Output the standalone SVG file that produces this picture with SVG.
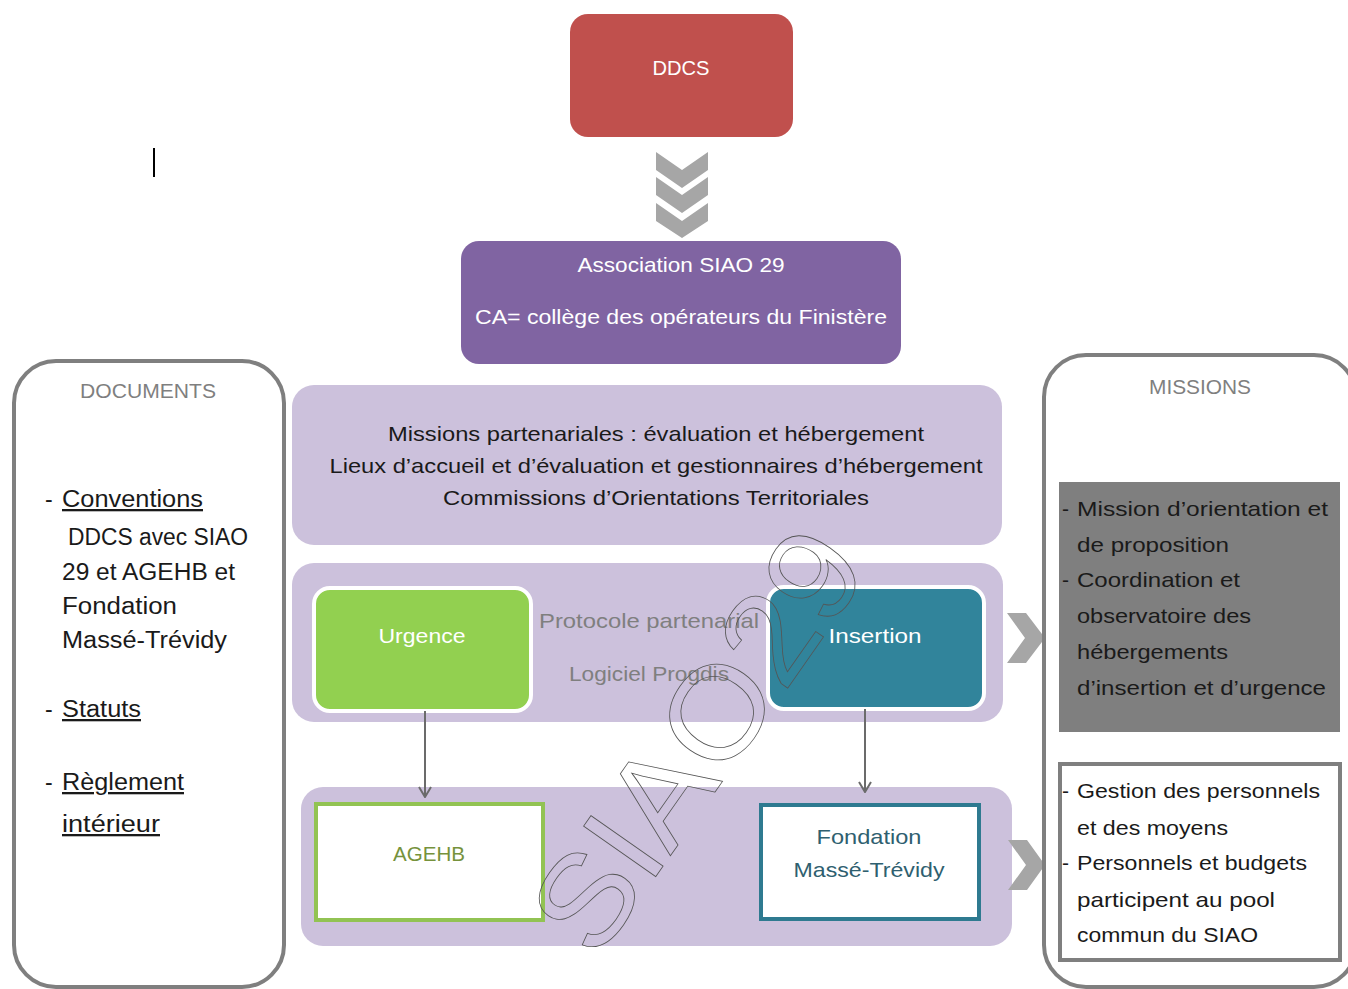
<svg xmlns="http://www.w3.org/2000/svg" width="1348" height="989" viewBox="0 0 1348 989">
<defs>
<style>
text{font-family:"Liberation Sans","DejaVu Sans",sans-serif;}
.w{fill:#ffffff;font-size:21px;text-anchor:middle;}
.blk{fill:#1a1a1a;font-size:21px;text-anchor:middle;}
.gry{fill:#7f7f7f;font-size:21px;text-anchor:middle;}
.doc{fill:#1a1a1a;font-size:23px;}
.mis{fill:#1a1a1a;font-size:21px;}
.u{text-decoration:underline;}
.chev{fill:#a6a6a6;}
.side{fill:#ffffff;stroke:#7f7f7f;stroke-width:4;}
.band{fill:#ccc1dc;}
.conn{stroke:#6b6b6b;stroke-width:2;fill:none;}
</style>
<marker id="ah" viewBox="0 0 12 14" refX="11" refY="7" markerWidth="12" markerHeight="14" markerUnits="userSpaceOnUse" orient="auto">
<path d="M1,1 L11,7 L1,13" fill="none" stroke="#6b6b6b" stroke-width="2"/>
</marker>
</defs>
<rect x="0" y="0" width="1348" height="989" fill="#ffffff"/>

<line x1="154" y1="148" x2="154" y2="177" stroke="#000" stroke-width="2"/>

<g id="ddcs">
<rect x="570" y="14" width="223" height="123" rx="18" fill="#c0504d"/>
<text class="w" x="681" y="75" textLength="57" lengthAdjust="spacingAndGlyphs">DDCS</text>
</g>

<g id="chevrons-down">
<polygon class="chev" points="656,152 682,170 708,152 708,170 682,188 656,170"/>
<polygon class="chev" points="656,177 682,195 708,177 708,195 682,213 656,195"/>
<polygon class="chev" points="656,203 682,221 708,203 708,221 682,238 656,221"/>
</g>

<g id="association">
<rect x="461" y="241" width="440" height="123" rx="18" fill="#8064a2"/>
<text class="w" x="681" y="272" textLength="207" lengthAdjust="spacingAndGlyphs">Association SIAO 29</text>
<text class="w" x="681" y="324" textLength="412" lengthAdjust="spacingAndGlyphs">CA= collège des opérateurs du Finistère</text>
</g>

<g id="missions-part">
<rect class="band" x="292" y="385" width="710" height="160" rx="22"/>
<text class="blk" x="656" y="441" textLength="536" lengthAdjust="spacingAndGlyphs">Missions partenariales : évaluation et hébergement</text>
<text class="blk" x="656" y="473" textLength="653" lengthAdjust="spacingAndGlyphs">Lieux d’accueil et d’évaluation et gestionnaires d’hébergement</text>
<text class="blk" x="656" y="505" textLength="426" lengthAdjust="spacingAndGlyphs">Commissions d’Orientations Territoriales</text>
</g>

<g id="band-middle">
<rect class="band" x="292" y="563" width="711" height="159" rx="22"/>
<text class="gry" x="649" y="628" textLength="220" lengthAdjust="spacingAndGlyphs">Protocole partenarial</text>
<text class="gry" x="649" y="681" textLength="160" lengthAdjust="spacingAndGlyphs">Logiciel Progdis</text>
</g>

<g id="urgence">
<rect x="314" y="588" width="217" height="123" rx="16" fill="#92d050" stroke="#ffffff" stroke-width="4"/>
<text class="w" x="422" y="643" textLength="87" lengthAdjust="spacingAndGlyphs">Urgence</text>
</g>

<g id="insertion">
<rect x="768" y="587" width="216" height="122" rx="16" fill="#31849b" stroke="#ffffff" stroke-width="4"/>
<text class="w" x="875" y="643" textLength="93" lengthAdjust="spacingAndGlyphs">Insertion</text>
</g>

<g id="band-bottom">
<rect class="band" x="301" y="787" width="711" height="159" rx="22"/>
</g>

<g id="agehb">
<rect x="316" y="804" width="227" height="116" fill="#ffffff" stroke="#92c353" stroke-width="4"/>
<text x="429" y="861" font-size="21" text-anchor="middle" fill="#76923c" textLength="72" lengthAdjust="spacingAndGlyphs">AGEHB</text>
</g>

<g id="fondation">
<rect x="761" y="805" width="218" height="114" fill="#ffffff" stroke="#2e7a90" stroke-width="4"/>
<text x="869" y="844" font-size="21" text-anchor="middle" fill="#2f5f70" textLength="105" lengthAdjust="spacingAndGlyphs">Fondation</text>
<text x="869" y="877" font-size="21" text-anchor="middle" fill="#2f5f70" textLength="151" lengthAdjust="spacingAndGlyphs">Massé-Trévidy</text>
</g>

<g id="connectors">
<line class="conn" x1="425" y1="711" x2="425" y2="797" marker-end="url(#ah)"/>
<line class="conn" x1="865" y1="709" x2="865" y2="792" marker-end="url(#ah)"/>
</g>

<g id="documents">
<rect class="side" x="14" y="361" width="270" height="626" rx="42"/>
<text x="148" y="398" font-size="20" text-anchor="middle" fill="#7f7f7f" textLength="136" lengthAdjust="spacingAndGlyphs">DOCUMENTS</text>
<text class="doc" x="45" y="507">-</text>
<text class="doc u" x="62" y="507" textLength="141" lengthAdjust="spacingAndGlyphs">Conventions</text>
<text class="doc" x="68" y="545" textLength="180" lengthAdjust="spacingAndGlyphs">DDCS avec SIAO</text>
<text class="doc" x="62" y="580" textLength="173" lengthAdjust="spacingAndGlyphs">29 et AGEHB et</text>
<text class="doc" x="62" y="614" textLength="115" lengthAdjust="spacingAndGlyphs">Fondation</text>
<text class="doc" x="62" y="648" textLength="165" lengthAdjust="spacingAndGlyphs">Massé-Trévidy</text>
<text class="doc" x="45" y="717">-</text>
<text class="doc u" x="62" y="717" textLength="79" lengthAdjust="spacingAndGlyphs">Statuts</text>
<text class="doc" x="45" y="790">-</text>
<text class="doc u" x="62" y="790" textLength="122" lengthAdjust="spacingAndGlyphs">Règlement</text>
<text class="doc u" x="62" y="832" textLength="98" lengthAdjust="spacingAndGlyphs">intérieur</text>
</g>

<g id="chevrons-right">
<polygon class="chev" points="1007,613 1026,613 1045,638 1026,663 1007,663 1025,638"/>
<polygon class="chev" points="1008,840 1027,840 1045,865 1027,890 1008,890 1026,865"/>
</g>

<g id="missions">
<rect class="side" x="1044" y="355" width="312" height="632" rx="42"/>
<text x="1200" y="394" font-size="20" text-anchor="middle" fill="#7f7f7f" textLength="102" lengthAdjust="spacingAndGlyphs">MISSIONS</text>
<rect x="1059" y="482" width="281" height="250" fill="#7f7f7f"/>
<text class="mis" x="1062" y="516">-</text>
<text class="mis" x="1077" y="516" textLength="251" lengthAdjust="spacingAndGlyphs">Mission d’orientation et</text>
<text class="mis" x="1077" y="552" textLength="152" lengthAdjust="spacingAndGlyphs">de proposition</text>
<text class="mis" x="1062" y="587">-</text>
<text class="mis" x="1077" y="587" textLength="163" lengthAdjust="spacingAndGlyphs">Coordination et</text>
<text class="mis" x="1077" y="623" textLength="174" lengthAdjust="spacingAndGlyphs">observatoire des</text>
<text class="mis" x="1077" y="659" textLength="151" lengthAdjust="spacingAndGlyphs">hébergements</text>
<text class="mis" x="1077" y="695" textLength="249" lengthAdjust="spacingAndGlyphs">d’insertion et d’urgence</text>
<rect x="1060" y="764" width="280" height="196" fill="#ffffff" stroke="#7f7f7f" stroke-width="4"/>
<text class="mis" x="1062" y="798">-</text>
<text class="mis" x="1077" y="798" textLength="243" lengthAdjust="spacingAndGlyphs">Gestion des personnels</text>
<text class="mis" x="1077" y="835" textLength="151" lengthAdjust="spacingAndGlyphs">et des moyens</text>
<text class="mis" x="1062" y="870">-</text>
<text class="mis" x="1077" y="870" textLength="230" lengthAdjust="spacingAndGlyphs">Personnels et budgets</text>
<text class="mis" x="1077" y="907" textLength="198" lengthAdjust="spacingAndGlyphs">participent au pool</text>
<text class="mis" x="1077" y="942" textLength="181" lengthAdjust="spacingAndGlyphs">commun du SIAO</text>
</g>

<g id="watermark">
<text transform="translate(596,962) rotate(-55)" font-size="128" fill="none" stroke="#555555" stroke-width="0.8" textLength="480" lengthAdjust="spacingAndGlyphs">SIAO29</text>
</g>
</svg>
